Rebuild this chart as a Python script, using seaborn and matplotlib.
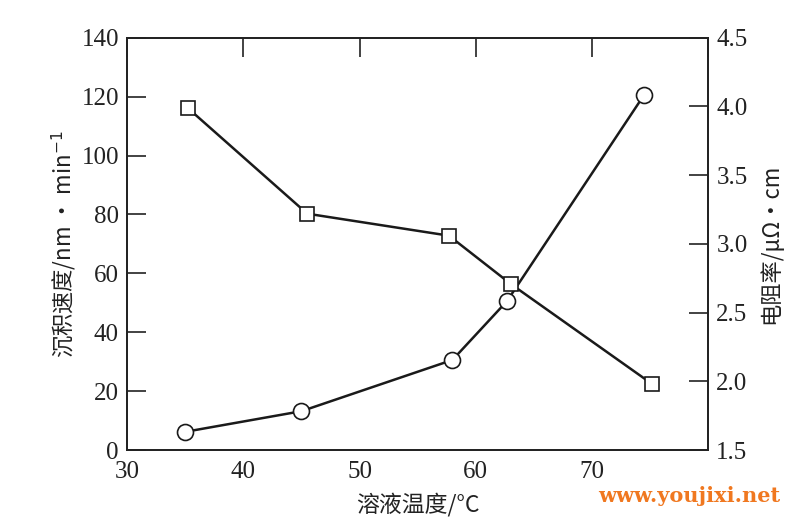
import matplotlib
matplotlib.use("Agg")
import matplotlib.pyplot as plt
import seaborn as sns
import pandas as pd

# Data
temp_rate = [35, 45, 58, 62.7, 74.5]
dep_rate = [6.2, 13.2, 30.6, 50.6, 120.6]
temp_res = [35.2, 45.5, 57.7, 63.0, 75.2]
resistivity = [3.99, 3.22, 3.06, 2.71, 1.98]

x_ticks = [30, 40, 50, 60, 70, 80]
x_tick_labels = ["30", "40", "50", "60", "70", ""]
y_left_ticks = [0, 20, 40, 60, 80, 100, 120, 140]
y_right_ticks = [1.5, 2.0, 2.5, 3.0, 3.5, 4.0, 4.5]

sns.set_theme(style="white")
plt.rcParams['font.family'] = ['Liberation Serif', 'Noto Sans CJK SC', 'DejaVu Sans']
plt.rcParams['axes.unicode_minus'] = False

fig = plt.figure(figsize=(8, 5.32), dpi=100)
ax = fig.add_axes([0.159, 0.154, 0.726, 0.775])
ax2 = ax.twinx()

df1 = pd.DataFrame({"t": temp_rate, "v": dep_rate})
df2 = pd.DataFrame({"t": temp_res, "v": resistivity})

sns.lineplot(data=df1, x="t", y="v", ax=ax, color="#1a1a1a", lw=1.8,
             marker="o", markersize=11.5, markerfacecolor="white",
             markeredgecolor="#1a1a1a", markeredgewidth=1.2)
sns.lineplot(data=df2, x="t", y="v", ax=ax2, color="#1a1a1a", lw=1.8,
             marker="s", markersize=10.5, markerfacecolor="white",
             markeredgecolor="#1a1a1a", markeredgewidth=1.2)

ax.set_xlim(30, 80)
ax.set_ylim(0, 140)
ax2.set_ylim(1.5, 4.5)
ax.set_xticks(x_ticks)
ax.set_yticks(y_left_ticks)
ax2.set_yticks(y_right_ticks)
ax.set_xticklabels(x_tick_labels)
ax.set_yticklabels([str(v) for v in y_left_ticks])
ax2.set_yticklabels([f"{v:.1f}" for v in y_right_ticks])

for a in (ax, ax2):
    for s in a.spines.values():
        s.set_color("#222222")
        s.set_linewidth(1.3)

ax.tick_params(axis="both", direction="in", length=14, width=1.2, colors="#222222",
               labelsize=18, labelcolor="#222222", top=True, pad=6)
ax.tick_params(axis="x", pad=8)
ax2.tick_params(axis="y", direction="in", length=14, width=1.2, colors="#222222",
                labelsize=18, labelcolor="#222222", pad=6)

ax.set_xlabel("溶液温度/°C", fontsize=16.5, color="#222222", labelpad=7,
              family=['Noto Sans CJK SC', 'DejaVu Sans'])
ax.set_ylabel("沉积速度/nm · min$^{-1}$", fontsize=16, color="#222222", labelpad=2,
              family=['Noto Sans CJK SC', 'DejaVu Sans'])
ax2.set_ylabel("电阻率/μΩ·cm", fontsize=16, color="#222222", labelpad=8,
               rotation=90, family=['Noto Sans CJK SC', 'DejaVu Sans'])

fig.text(0.975, 0.068, "www.youjixi.net", ha="right", va="center", fontsize=15,
         fontweight="bold", color="#f07820", family="DejaVu Serif")

fig.savefig("out.png", dpi=100)
